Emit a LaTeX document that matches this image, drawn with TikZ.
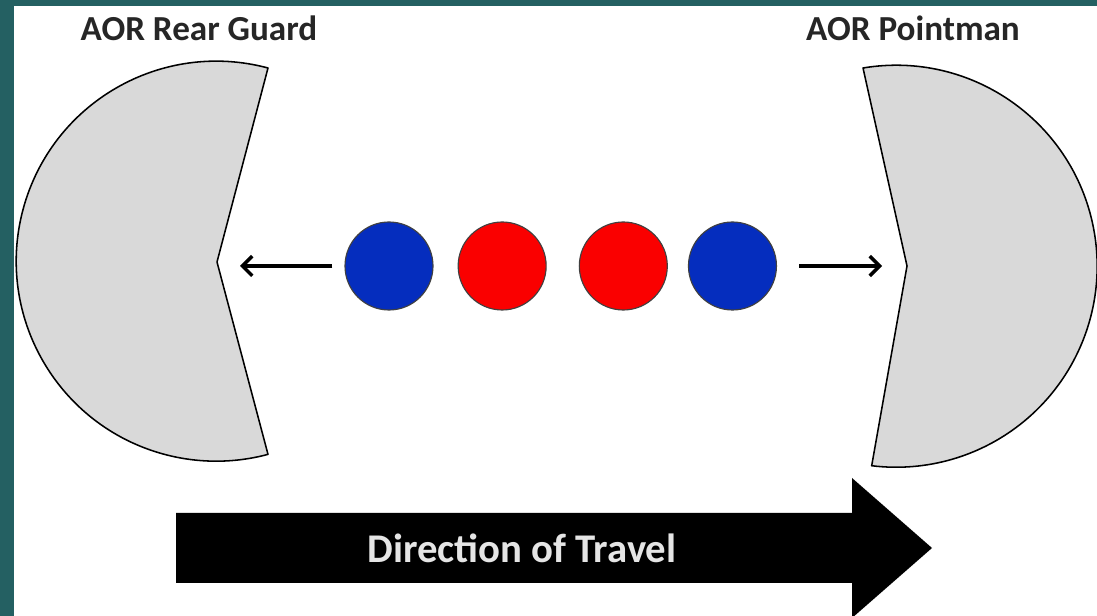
\documentclass[tikz,border=0pt]{standalone}
\usepackage{fontspec}
\setmainfont{Carlito}
\usetikzlibrary{arrows.meta,positioning}
\definecolor{bgteal}{RGB}{36,96,98}
\definecolor{guardgray}{RGB}{217,217,217}
\definecolor{manblue}{RGB}{5,45,190}
\definecolor{manred}{RGB}{250,0,0}
\definecolor{labelgray}{RGB}{38,38,38}

\begin{document}
\begin{tikzpicture}
          [x=0.025cm,y=0.025cm,
            guard/.style={draw=black,fill=guardgray,line width=1.1pt,line join=round},
            man/.style={circle,draw=black!75,line width=0.8pt,minimum size=2.2cm,inner sep=0pt},
            move/.style={line width=2.4pt,-{Straight Barb[length=7pt,width=14pt]}},
            aor/.style={text=labelgray,font=\bfseries\fontsize{25}{28}\selectfont}]
          \useasboundingbox (0,0) rectangle (1097,616);
          \fill[bgteal] (0,0) rectangle (1097,616);
          \fill[white] (14,0) rectangle (1097,610);
          \coordinate (rearnotch) at (217,354);
          \coordinate (pointnotch) at (907,350);
          \draw[guard] (rearnotch) -- (268,548) arc[start angle=75,end angle=285,radius=200] -- cycle;
          \draw[guard] (pointnotch) -- (863,548) arc[start angle=99.5,end angle=-97,radius=201] -- cycle;
          \node[aor] (rearlabel) at (199,588) {AOR Rear Guard};
          \node[aor] (pointlabel) at (913,588) {AOR Pointman};
          \node[man,fill=manblue] (m1) at (389,350) {};
          \node[man,fill=manred,right=0.6cm of m1] (m2) {};
          \node[man,fill=manred,right=0.8cm of m2] (m3) {};
          \node[man,fill=manblue,right=0.5cm of m3] (m4) {};
          \coordinate (reartip) at (240,350);
          \coordinate (pointtip) at (882,350);
          \draw[move,shorten <=0.3cm] (m1) -- (reartip);
          \draw[move,shorten <=0.55cm] (m4) -- (pointtip);
          \fill[black] (176,33) -- (852,33) -- (852,-2) -- (932,68) -- (852,138)
            -- (852,103) -- (176,103) -- cycle;
          \node[text=white!90!black,font=\bfseries\fontsize{29}{32}\selectfont] (travel) at (522,68) {Direction of Travel};
        \end{tikzpicture}
\end{document}
